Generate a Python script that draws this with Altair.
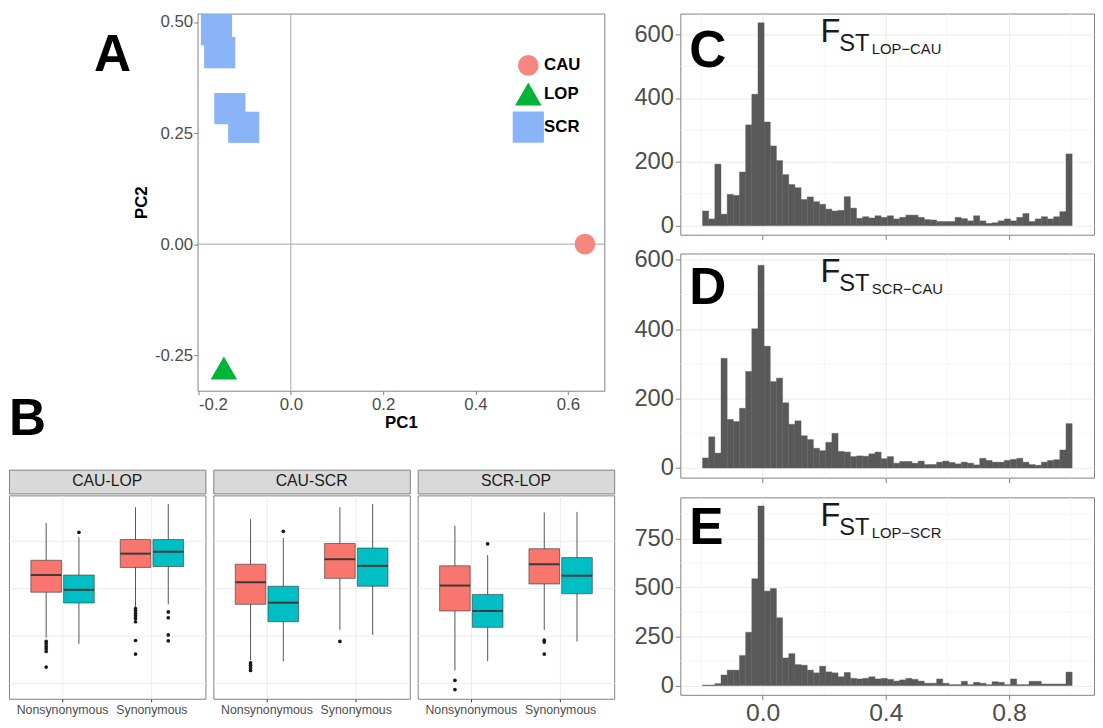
import altair as alt
import pandas as pd
import numpy as np

FONT = "Liberation Sans"
TXT = "#4D4D4D"
BORDER = "#808080"
GRID = "#EBEBEB"

# ---------------- Panel A : PCA ----------------
pca_pop = ["SCR", "SCR", "SCR", "SCR", "LOP", "CAU"]
pca_pc1 = [-0.161, -0.154, -0.132, -0.102, -0.145, 0.637]
pca_pc2 = [0.483, 0.431, 0.305, 0.263, -0.279, 0.0]
pop_levels = ["CAU", "LOP", "SCR"]
pop_colors = ["#F6877F", "#00B43A", "#8AB4F8"]
pop_shapes = ["circle", "triangle-up", "square"]
pop_sizes = [441, 1000, 529]
pca_xticks = [-0.2, 0.0, 0.2, 0.4, 0.6]
pca_yticks = [-0.25, 0.0, 0.25, 0.5]

# ---------------- Panel B : boxplots ----------------
box_facets = ["CAU-LOP", "CAU-SCR", "SCR-LOP"]
box_classes = ["Nonsynonymous", "Synonymous"]
box_groups = ["g1", "g2"]
box_facet = ["CAU-LOP"] * 4 + ["CAU-SCR"] * 4 + ["SCR-LOP"] * 4
box_class = ["Nonsynonymous", "Nonsynonymous", "Synonymous", "Synonymous"] * 3
box_group = ["g1", "g2"] * 6
box_lo = [0.0979, 0.0913, 0.1302, 0.1330, 0.0740, 0.0729, 0.1059, 0.1007, 0.0632, 0.0729, 0.1059, 0.0938]
box_q1 = [0.1458, 0.1344, 0.1719, 0.1729, 0.1330, 0.1146, 0.1604, 0.1521, 0.1260, 0.1087, 0.1545, 0.1441]
box_med = [0.1639, 0.1483, 0.1865, 0.1885, 0.1563, 0.1347, 0.1806, 0.1736, 0.1528, 0.1260, 0.1753, 0.1632]
box_q3 = [0.1795, 0.1639, 0.2014, 0.2014, 0.1753, 0.1521, 0.1972, 0.1924, 0.1736, 0.1434, 0.1917, 0.1823]
box_hi = [0.2188, 0.2038, 0.2354, 0.2389, 0.2229, 0.2031, 0.2354, 0.2389, 0.2160, 0.1851, 0.2299, 0.2306]

out_facet = (["CAU-LOP"] * 19 + ["CAU-SCR"] * 6 + ["SCR-LOP"] * 6)
out_class = (["Nonsynonymous"] * 7 + ["Synonymous"] * 12
             + ["Nonsynonymous"] * 5 + ["Synonymous"] * 1
             + ["Nonsynonymous"] * 3 + ["Synonymous"] * 3)
out_group = (["g1"] * 6 + ["g2"] * 1 + ["g1"] * 8 + ["g2"] * 4
             + ["g1"] * 4 + ["g2"] * 1 + ["g1"] * 1
             + ["g1"] * 2 + ["g2"] * 1 + ["g1"] * 3)
out_value = [0.0938, 0.0913, 0.0885, 0.0861, 0.0833, 0.0667,
             0.2090,
             0.1285, 0.1260, 0.1233, 0.1208, 0.1181, 0.1146, 0.0948, 0.0805,
             0.1250, 0.1188, 0.1007, 0.0945,
             0.0712, 0.0688, 0.0660, 0.0632,
             0.2101,
             0.0938,
             0.0528, 0.0430,
             0.1969,
             0.0951, 0.0931, 0.0805]
box_yvals = [0.05, 0.10, 0.15, 0.20]
box_fill = ["#F8766D", "#00BFC4"]

# ---------------- Panels C, D, E : FST histograms ----------------
hist_start = list(np.round(-0.195 + 0.02 * np.arange(60), 3))
hist_end = list(np.round(-0.175 + 0.02 * np.arange(60), 3))
fst_lop_cau = [46, 21, 193, 36, 98, 95, 168, 316, 412, 636,
               325, 250, 204, 160, 129, 119, 82, 90, 75, 67,
               52, 46, 48, 91, 55, 23, 28, 24, 31, 26,
               31, 21, 26, 33, 33, 26, 19, 18, 13, 13,
               13, 26, 22, 15, 31, 15, 7, 9, 15, 21,
               15, 26, 38, 13, 21, 28, 21, 28, 44, 225]
fst_scr_cau = [29, 90, 43, 316, 140, 134, 172, 278, 401, 584,
               351, 249, 259, 188, 126, 136, 93, 82, 57, 50,
               74, 100, 48, 46, 33, 35, 34, 41, 46, 27,
               33, 14, 19, 19, 14, 20, 10, 10, 17, 20,
               16, 12, 17, 14, 9, 28, 22, 17, 17, 22,
               25, 28, 17, 10, 8, 17, 22, 24, 52, 128]
fst_lop_scr = [3, 3, 10, 54, 79, 79, 154, 272, 545, 916,
               482, 495, 346, 141, 163, 107, 104, 79, 65, 99,
               70, 65, 45, 67, 37, 34, 37, 45, 34, 37,
               32, 23, 29, 37, 32, 23, 12, 12, 34, 12,
               5, 5, 22, 5, 17, 12, 5, 20, 17, 5,
               34, 5, 5, 22, 22, 8, 8, 8, 8, 69]
hist_xmajor = [0.0, 0.4, 0.8]
hist_xminor = [-0.2, 0.2, 0.6, 1.0]


def text_at(txt, x, y, size, weight="bold", color="black", font=FONT):
    return alt.Chart(pd.DataFrame({"t": [txt]})).mark_text(
        align="left", baseline="alphabetic", fontSize=size, fontWeight=weight,
        color=color, font=font
    ).encode(x=alt.value(x), y=alt.value(y), text="t:N")


# ---------------- build A ----------------
dfA = pd.DataFrame({"pop": pca_pop, "PC1": pca_pc1, "PC2": pca_pc2})
xA = alt.Scale(domain=[-0.202, 0.679], nice=False, zero=False)
yA = alt.Scale(domain=[-0.330, 0.519], nice=False, zero=False)
axAx = alt.Axis(values=pca_xticks, title="PC1", grid=False, domain=False,
                labelExpr="replace(format(datum.value, '.1f'), '\u2212', '-')",
                labelFontSize=17, labelColor=TXT, tickSize=4, tickColor=BORDER,
                labelPadding=2, titleFontSize=17, titleFontWeight="bold",
                titleColor="black", titlePadding=2)
axAy = alt.Axis(values=pca_yticks, title="PC2", grid=False, domain=False,
                labelExpr="replace(format(datum.value, '.2f'), '\u2212', '-')",
                labelFontSize=17, labelColor=TXT, tickSize=4, tickColor=BORDER,
                labelPadding=1, titleFontSize=17, titleFontWeight="bold",
                titleColor="black", titlePadding=4)
legA = alt.Legend(orient="none", legendX=510, legendY=42, title=None,
                  labelFontSize=17, labelFontWeight="bold", labelColor="black",
                  labelFont=FONT, padding=0, rowPadding=5,
                  labelOffset=0, symbolStrokeWidth=0)

vA = alt.Chart(pd.DataFrame({"v": [0.0]})).mark_rule(color="#A6A6A6", strokeWidth=1).encode(
    x=alt.X("v:Q", scale=xA, axis=axAx))
hA = alt.Chart(pd.DataFrame({"v": [0.0]})).mark_rule(color="#A6A6A6", strokeWidth=1).encode(
    y=alt.Y("v:Q", scale=yA, axis=axAy))
ptsA = alt.Chart(dfA).mark_point(filled=True, strokeWidth=0, opacity=1).encode(
    x=alt.X("PC1:Q", scale=xA, axis=axAx),
    y=alt.Y("PC2:Q", scale=yA, axis=axAy),
    color=alt.Color("pop:N", scale=alt.Scale(domain=pop_levels, range=pop_colors), legend=legA),
    shape=alt.Shape("pop:N", scale=alt.Scale(domain=pop_levels, range=pop_shapes), legend=legA),
    size=alt.Size("pop:N", scale=alt.Scale(domain=pop_levels, range=pop_sizes), legend=legA),
)
panelA = alt.layer(
    vA, hA, ptsA,
    text_at("A", -105, 58, 52),
).properties(width=412, height=382)

spacerA = text_at("B", 0, 427, 52).properties(
    width=79, height=382, view=alt.ViewBackground(stroke="transparent", fill="transparent"))
rowA = alt.hconcat(spacerA, panelA, spacing=5)

# ---------------- build B ----------------
dfS = pd.DataFrame({"facet": box_facet, "cls": box_class, "grp": box_group,
                    "lo": box_lo, "q1": box_q1, "med": box_med, "q3": box_q3, "hi": box_hi})
dfO = pd.DataFrame({"facet": out_facet, "cls": out_class, "grp": out_group, "val": out_value})


def box_panel(name):
    st = dfS[dfS.facet == name]
    ou = dfO[dfO.facet == name]
    xs = alt.X("cls:N", scale=alt.Scale(domain=box_classes, paddingInner=0.267, paddingOuter=0.233),
               axis=alt.Axis(title=None, labelAngle=0, labelFontSize=12.5, labelColor=TXT,
                             tickSize=3, tickColor="#333333", labelPadding=2, domain=False,
                             grid=True, gridColor=GRID))
    xo = alt.XOffset("grp:N", scale=alt.Scale(domain=box_groups, paddingInner=0, paddingOuter=0))
    ys = alt.Scale(domain=[0.0333, 0.248], nice=False, zero=False)
    ax = alt.Axis(values=box_yvals, labels=False, ticks=False, domain=False, title=None,
                  grid=True, gridColor=GRID)
    whisk = alt.Chart(st).mark_rule(color="#555555", strokeWidth=1).encode(
        x=xs, xOffset=xo, y=alt.Y("lo:Q", scale=ys, axis=ax), y2="hi:Q")
    box = alt.Chart(st).mark_bar(size=31, stroke="#333333", strokeWidth=0.6).encode(
        x=xs, xOffset=xo, y=alt.Y("q1:Q", scale=ys, axis=ax), y2="q3:Q",
        fill=alt.Fill("grp:N", scale=alt.Scale(domain=box_groups, range=box_fill), legend=None))
    med = alt.Chart(st).mark_tick(size=31, thickness=2, color="#3A3A3A", opacity=1).encode(
        x=xs, xOffset=xo, y=alt.Y("med:Q", scale=ys, axis=ax))
    out = alt.Chart(ou).mark_circle(size=14, color="#1A1A1A", opacity=1).encode(
        x=xs, xOffset=xo, y=alt.Y("val:Q", scale=ys, axis=ax))
    body = alt.layer(whisk, box, med, out).properties(width=199, height=206)
    strip = alt.Chart(pd.DataFrame({"facet": [name]})).mark_text(
        fontSize=16, color="#1A1A1A", font=FONT).encode(text="facet:N").properties(
        width=199, height=24, view=alt.ViewBackground(fill="#D9D9D9", stroke=BORDER))
    return alt.vconcat(strip, body, spacing=0)


panelB = alt.hconcat(*[box_panel(f) for f in box_facets], spacing=6)


# ---------------- build C, D, E ----------------
def hist_panel(counts, ydom, height, yvals, yminor, letter, letter_y, sub, show_x):
    df = pd.DataFrame({"x0": hist_start, "x1": hist_end, "n": counts, "z": [0] * len(counts)})
    xs = alt.Scale(domain=[-0.267, 1.076], nice=False, zero=False)
    ysc = alt.Scale(domain=ydom, nice=False, zero=False)
    axx = alt.Axis(values=hist_xmajor, labels=show_x, format=".1f", labelFontSize=25,
                   labelColor=TXT, tickSize=5, tickColor=BORDER, labelPadding=1,
                   grid=True, gridColor=GRID, domain=False, title=None)
    axy = alt.Axis(values=yvals, labelFontSize=24, labelColor=TXT, tickSize=5,
                   tickColor=BORDER, labelPadding=2, grid=True, gridColor=GRID,
                   domain=False, title=None)
    mx = alt.Chart(pd.DataFrame({"v": hist_xminor})).mark_rule(color="#F2F2F2", strokeWidth=0.7).encode(
        x=alt.X("v:Q", scale=xs, axis=axx))
    my = alt.Chart(pd.DataFrame({"v": yminor})).mark_rule(color="#F2F2F2", strokeWidth=0.7).encode(
        y=alt.Y("v:Q", scale=ysc, axis=axy))
    bars = alt.Chart(df).mark_rect(color="#595959", stroke="#595959", strokeWidth=0.4).encode(
        x=alt.X("x0:Q", scale=xs, axis=axx), x2="x1:Q",
        y=alt.Y("n:Q", scale=ysc, axis=axy), y2="z:Q")
    return alt.layer(
        mx, my, bars,
        text_at(letter, 9, letter_y, 52),
        text_at("F", 142, 29, 33, weight="normal", color="#1A1A1A"),
        text_at("ST", 161, 38, 24, weight="normal", color="#1A1A1A"),
        text_at(sub, 194, 41, 15, weight="normal", color="#1A1A1A"),
    ).properties(width=419, height=height)


panelC = hist_panel(fst_lop_cau, [-28.5, 665], 224, [0, 200, 400, 600], [100, 300, 500],
                    "C", 54, "LOP\u2212CAU", False)
panelD = hist_panel(fst_scr_cau, [-27.6, 618], 227, [0, 200, 400, 600], [100, 300, 500],
                    "D", 51, "SCR\u2212CAU", False)
panelE = hist_panel(fst_lop_scr, [-47, 960], 200, [0, 250, 500, 750], [125, 375, 625, 875],
                    "E", 47, "LOP\u2212SCR", True)

left = alt.vconcat(rowA, panelB, spacing=23)
right = alt.vconcat(alt.vconcat(panelC, panelD, spacing=6), panelE, spacing=13)

chart = alt.hconcat(left, right, spacing=18).properties(
    padding={"left": 0, "top": 0, "right": 0, "bottom": 0}
).configure(font=FONT).configure_view(stroke=BORDER, strokeWidth=1).configure_axis(
    labelFont=FONT, titleFont=FONT)

chart.save("out.html", embed_options={"renderer": "svg", "actions": False})
